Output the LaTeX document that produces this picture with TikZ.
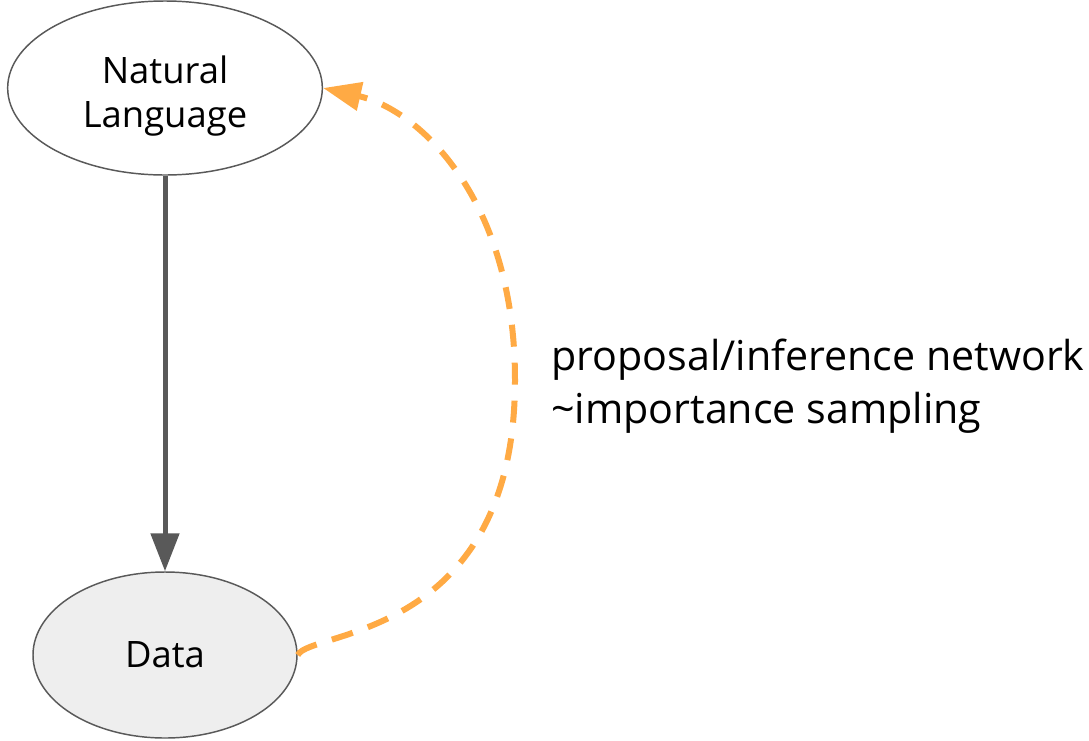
\documentclass[tikz,border=0pt]{standalone}
\usepackage{fontspec}
\setmainfont{Open Sans}
\usetikzlibrary{shapes,arrows.meta,positioning}
\definecolor{edgeGray}{HTML}{595959}
\definecolor{propOrange}{HTML}{FFAA44}
\definecolor{dataFill}{HTML}{EEEEEE}
\tikzset{
    varNode/.style={
        ,   ellipse
        ,   draw=edgeGray
        ,   line width=1.1pt
        ,   inner sep=0pt
        ,   align=center
        ,   text=black
        ,   font={\fontsize{27.3pt}{32.5pt}\selectfont}
    },
    obsNode/.style={
        ,   varNode
        ,   fill=dataFill
    },
    varText/.style={
        ,   inner sep=0pt
        ,   align=center
        ,   font={\fontsize{27.3pt}{32.5pt}\selectfont}
    },
    genEdge/.style={
        ,   draw=edgeGray
        ,   line width=3.75pt
        ,   -{Triangle[length=28.5pt,width=21pt]}
    },
    propEdge/.style={
        ,   draw=propOrange
        ,   line width=4.5pt
        ,   dash pattern=on 16.5pt off 12pt
        ,   -{Triangle[length=28.5pt,width=21pt]}
    },
    edgeLabel/.style={
        ,   anchor=west
        ,   align=left
        ,   inner sep=0pt
        ,   font={\fontsize{30.9pt}{40pt}\selectfont}
    }
}
\begin{document}
\begin{tikzpicture}[x=0.75pt, y=-0.75pt]
	\useasboundingbox (0,0) rectangle (1089,740);
	\fill[white] (0,0) rectangle (1089,740);

	% the two variables
	\node[varNode, minimum width=236pt, minimum height=130.5pt] (nl) at (165,88) {};
	\node[varText] (nlTxt) at (165,96) {Natural\\Language};
	\node[obsNode, minimum width=198pt, minimum height=124.5pt] (data) at (165,655) {Data};

	% generative direction
	\draw[genEdge] (nl) -- (data);

	% inference direction, bent round to the right
	\coordinate (mid) at (515,380);
	\draw[propEdge] (data.east) .. controls (310,630) and (515,640) .. (mid)
	    .. controls (515,200) and (420,110) .. (nl.east);

	\node[edgeLabel] (lbl) at (551,386) {proposal/inference network\\\textasciitilde importance sampling};
\end{tikzpicture}
\end{document}
